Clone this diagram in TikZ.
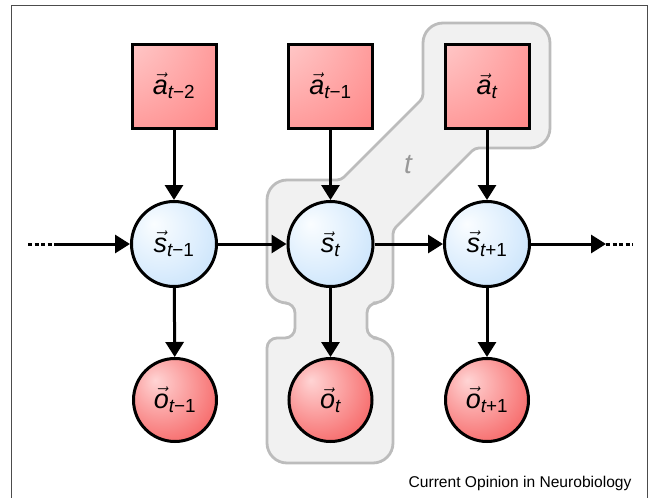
\documentclass[tikz,border=0pt]{standalone}
\usepackage{amsmath}
\usepackage{fontspec}
\setmainfont{Liberation Sans}
\usepackage{tikz}
\usetikzlibrary{arrows.meta}

\definecolor{sqhi}{RGB}{255,230,230}
\definecolor{sqlo}{RGB}{255,45,45}
\definecolor{sthi}{RGB}{250,253,255}
\definecolor{stlo}{RGB}{180,216,250}
\definecolor{obhi}{RGB}{255,212,212}
\definecolor{oblo}{RGB}{242,52,52}
\definecolor{regfill}{RGB}{241,241,241}
\definecolor{regline}{RGB}{188,188,188}

\pgfdeclareradialshading{actshade}{\pgfpoint{-50bp}{50bp}}{color(0bp)=(sqhi); color(140bp)=(sqlo); color(150bp)=(sqlo)}
\pgfdeclareradialshading{stshade}{\pgfpoint{-12bp}{12bp}}{color(0bp)=(sthi); color(22bp)=(sthi!60!stlo); color(52bp)=(stlo); color(70bp)=(stlo)}
\pgfdeclareradialshading{obshade}{\pgfpoint{-12bp}{12bp}}{color(0bp)=(obhi); color(52bp)=(oblo); color(70bp)=(oblo)}

\newcommand{\vlab}[2]{$\vec{\textit{#1}}_{\textit{t}\textup{#2}}$}

\begin{document}
\begin{tikzpicture}[
		x=1pt, y=-1pt,
		every node/.style={draw, line width=3pt, inner sep=0pt, font=\fontsize{27}{30}\selectfont},
		action/.style={rectangle, minimum size=84pt, shading=actshade},
		state/.style={circle, minimum size=85pt, shading=stshade},
		obs/.style={circle, minimum size=83pt, shading=obshade},
		link/.style={line width=3pt, -{Triangle[length=15pt, width=18pt]}},
		dots/.style={line width=3pt, dash pattern=on 4pt off 2.5pt}
	]
  \clip (0,0) rectangle (649,498);
  \draw [draw=black!70, line width=1pt] (11.5,5.3) rectangle (647.5,520);

  % time slice t
  \draw [fill=regfill, draw=regline, line width=2.8pt]
    (267,240) [rounded corners=20pt] -- (267,180) [rounded corners=4pt] -- (341,180)
    -- (423,98) [rounded corners=20pt] -- (423,23) -- (550,23) -- (550,148)
    [rounded corners=4pt] -- (475,148) -- (393,230) [rounded corners=20pt] -- (393,303)
    [rounded corners=10pt] -- (367,303) -- (367,338) [rounded corners=20pt] -- (393,338)
    -- (393,463) -- (267,463) [rounded corners=10pt] -- (267,338) -- (295,338) -- (295,303)
    [rounded corners=20pt] -- (267,303) [sharp corners] -- cycle;
  \node (t_label) [draw=none, text=black!40, font=\fontsize{28}{30}\selectfont\itshape] at (408,165) {t};

  \node (a_m2) [action] at (174,86) {\vlab{a}{−2}};
  \node (a_m1) [action] at (330.5,86) {\vlab{a}{−1}};
  \node (a_0) [action] at (487,86) {\vlab{a}{}};

  \node (s_m1) [state] at (174,244) {\vlab{s}{−1}};
  \node (s_0) [state] at (330.5,244) {\vlab{s}{}};
  \node (s_p1) [state] at (487,244) {\vlab{s}{+1}};

  \node (o_m1) [obs] at (175,400) {\vlab{o}{−1}};
  \node (o_0) [obs] at (330.5,400) {\vlab{o}{}};
  \node (o_p1) [obs] at (487,400) {\vlab{o}{+1}};

  \coordinate (in_dots) at (28,244);
  \coordinate (in_start) at (55,244);
  \coordinate (out_end) at (606,244);
  \coordinate (out_dots) at (633,244);

  \draw [dots] (in_dots) -- (in_start);
  \draw [link] (in_start) -- (s_m1);
  \draw [link] (s_m1) -- (s_0);
  \draw [link] (s_0) -- (s_p1);
  \draw [link] (s_p1) -- (out_end);
  \draw [dots] (out_end) -- (out_dots);

  \draw [link] (a_m2) -- (s_m1);
  \draw [link] (a_m1) -- (s_0);
  \draw [link] (a_0) -- (s_p1);
  \draw [link] (s_m1) -- (o_m1);
  \draw [link] (s_0) -- (o_0);
  \draw [link] (s_p1) -- (o_p1);

  \node (journal) [draw=none, anchor=east, font=\fontsize{15.6}{18}\selectfont] at (633,483) {Current Opinion in Neurobiology};
\end{tikzpicture}
\end{document}
